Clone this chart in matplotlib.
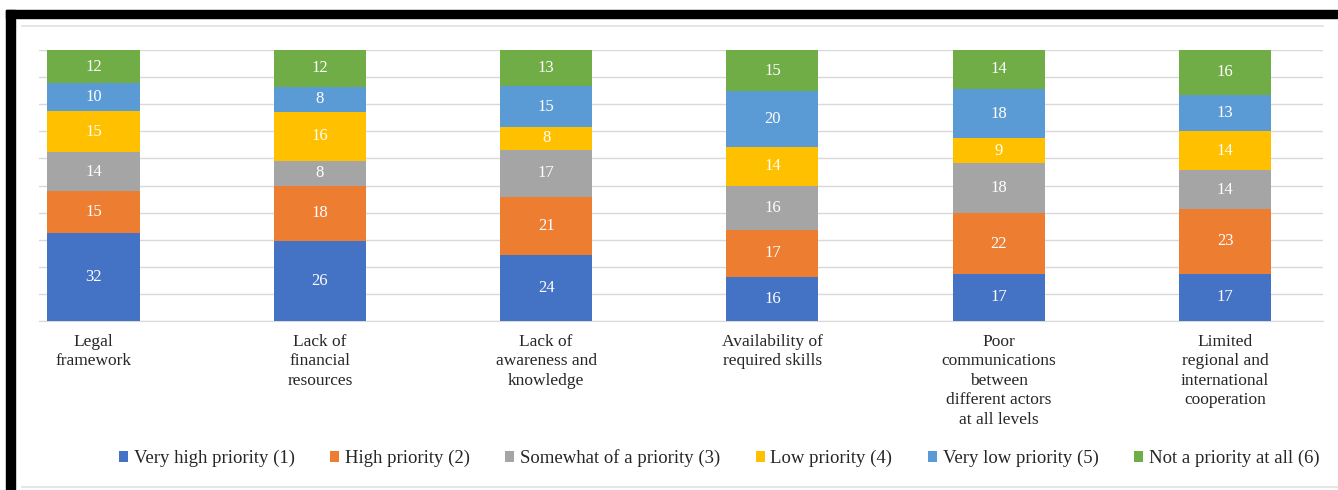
import numpy as np
import matplotlib.pyplot as plt
from matplotlib.patches import Rectangle
from matplotlib.lines import Line2D

categories = ['Legal\nframework', 'Lack of\nfinancial\nresources', 'Lack of\nawareness and\nknowledge',
              'Availability of\nrequired skills',
              'Poor\ncommunications\nbetween\ndifferent actors\nat all levels',
              'Limited\nregional and\ninternational\ncooperation']
series = ['Very high priority (1)', 'High priority (2)', 'Somewhat of a priority (3)',
          'Low priority (4)', 'Very low priority (5)', 'Not a priority at all (6)']
very_high = [32, 26, 24, 16, 17, 17]
high = [15, 18, 21, 17, 22, 23]
somewhat = [14, 8, 17, 16, 18, 14]
low = [15, 16, 8, 14, 9, 14]
very_low = [10, 8, 15, 20, 18, 13]
not_at_all = [12, 12, 13, 15, 14, 16]
colors = ['#4472C4', '#ED7D31', '#A5A5A5', '#FFC000', '#5B9BD5', '#70AD47']

W, H = 1338, 490
fig = plt.figure(figsize=(W / 100, H / 100), dpi=100)
plt.rcParams['font.family'] = 'Liberation Serif'

ax = fig.add_axes([39 / W, 1 - 321 / H, (1323 - 39) / W, (321 - 50) / H])

data = np.array([very_high, high, somewhat, low, very_low, not_at_all], dtype=float)
totals = data.sum(axis=0)
pct = data / totals * 100
x = np.arange(len(categories))
bottom = np.zeros(len(categories))
for i in range(len(series)):
    bars = ax.bar(x, pct[i], 0.407, bottom=bottom, color=colors[i], label=series[i], zorder=3)
    for j, b in enumerate(bars):
        ax.text(b.get_x() + b.get_width() / 2, bottom[j] + pct[i][j] / 2, str(int(data[i][j])),
                ha='center', va='center', color='white', fontsize=12, zorder=4)
    bottom += pct[i]

ax.set_xlim(-0.241, 5.433)
ax.set_ylim(0, 100)
ax.set_yticks(np.arange(0, 101, 10))
ax.yaxis.grid(True, color='#D9D9D9', lw=1, zorder=0)
ax.tick_params(axis='y', left=False, labelleft=False)
ax.tick_params(axis='x', length=0, pad=9)
ax.set_xticks(x)
ax.set_xticklabels(categories, fontsize=12.5, color='#262626', linespacing=1.3)
for s in ['top', 'left', 'right']:
    ax.spines[s].set_visible(False)
ax.spines['bottom'].set_color('#D9D9D9')

leg = fig.legend(loc='center', bbox_to_anchor=(719 / W, 1 - 458 / H), ncol=6, frameon=False,
                 fontsize=13.5, handlelength=0.5, handleheight=0.5, handletextpad=0.3,
                 columnspacing=1.88)
for t in leg.get_texts():
    t.set_color('#262626')

# chart area border and black frame
fig.add_artist(Line2D([22 / W, 1323 / W], [1 - 26 / H, 1 - 26 / H], color='#E0E0E0', lw=1.2))
fig.add_artist(Line2D([22 / W, 1], [1 - 487 / H, 1 - 487 / H], color='#E0E0E0', lw=1.2))
fig.add_artist(Rectangle((6 / W, 1 - 18 / H), 1, 8 / H, color='black', transform=fig.transFigure))
fig.add_artist(Rectangle((6 / W, 0), 9 / W, 1 - 10 / H, color='black', transform=fig.transFigure))

fig.savefig('out.png', dpi=100)
